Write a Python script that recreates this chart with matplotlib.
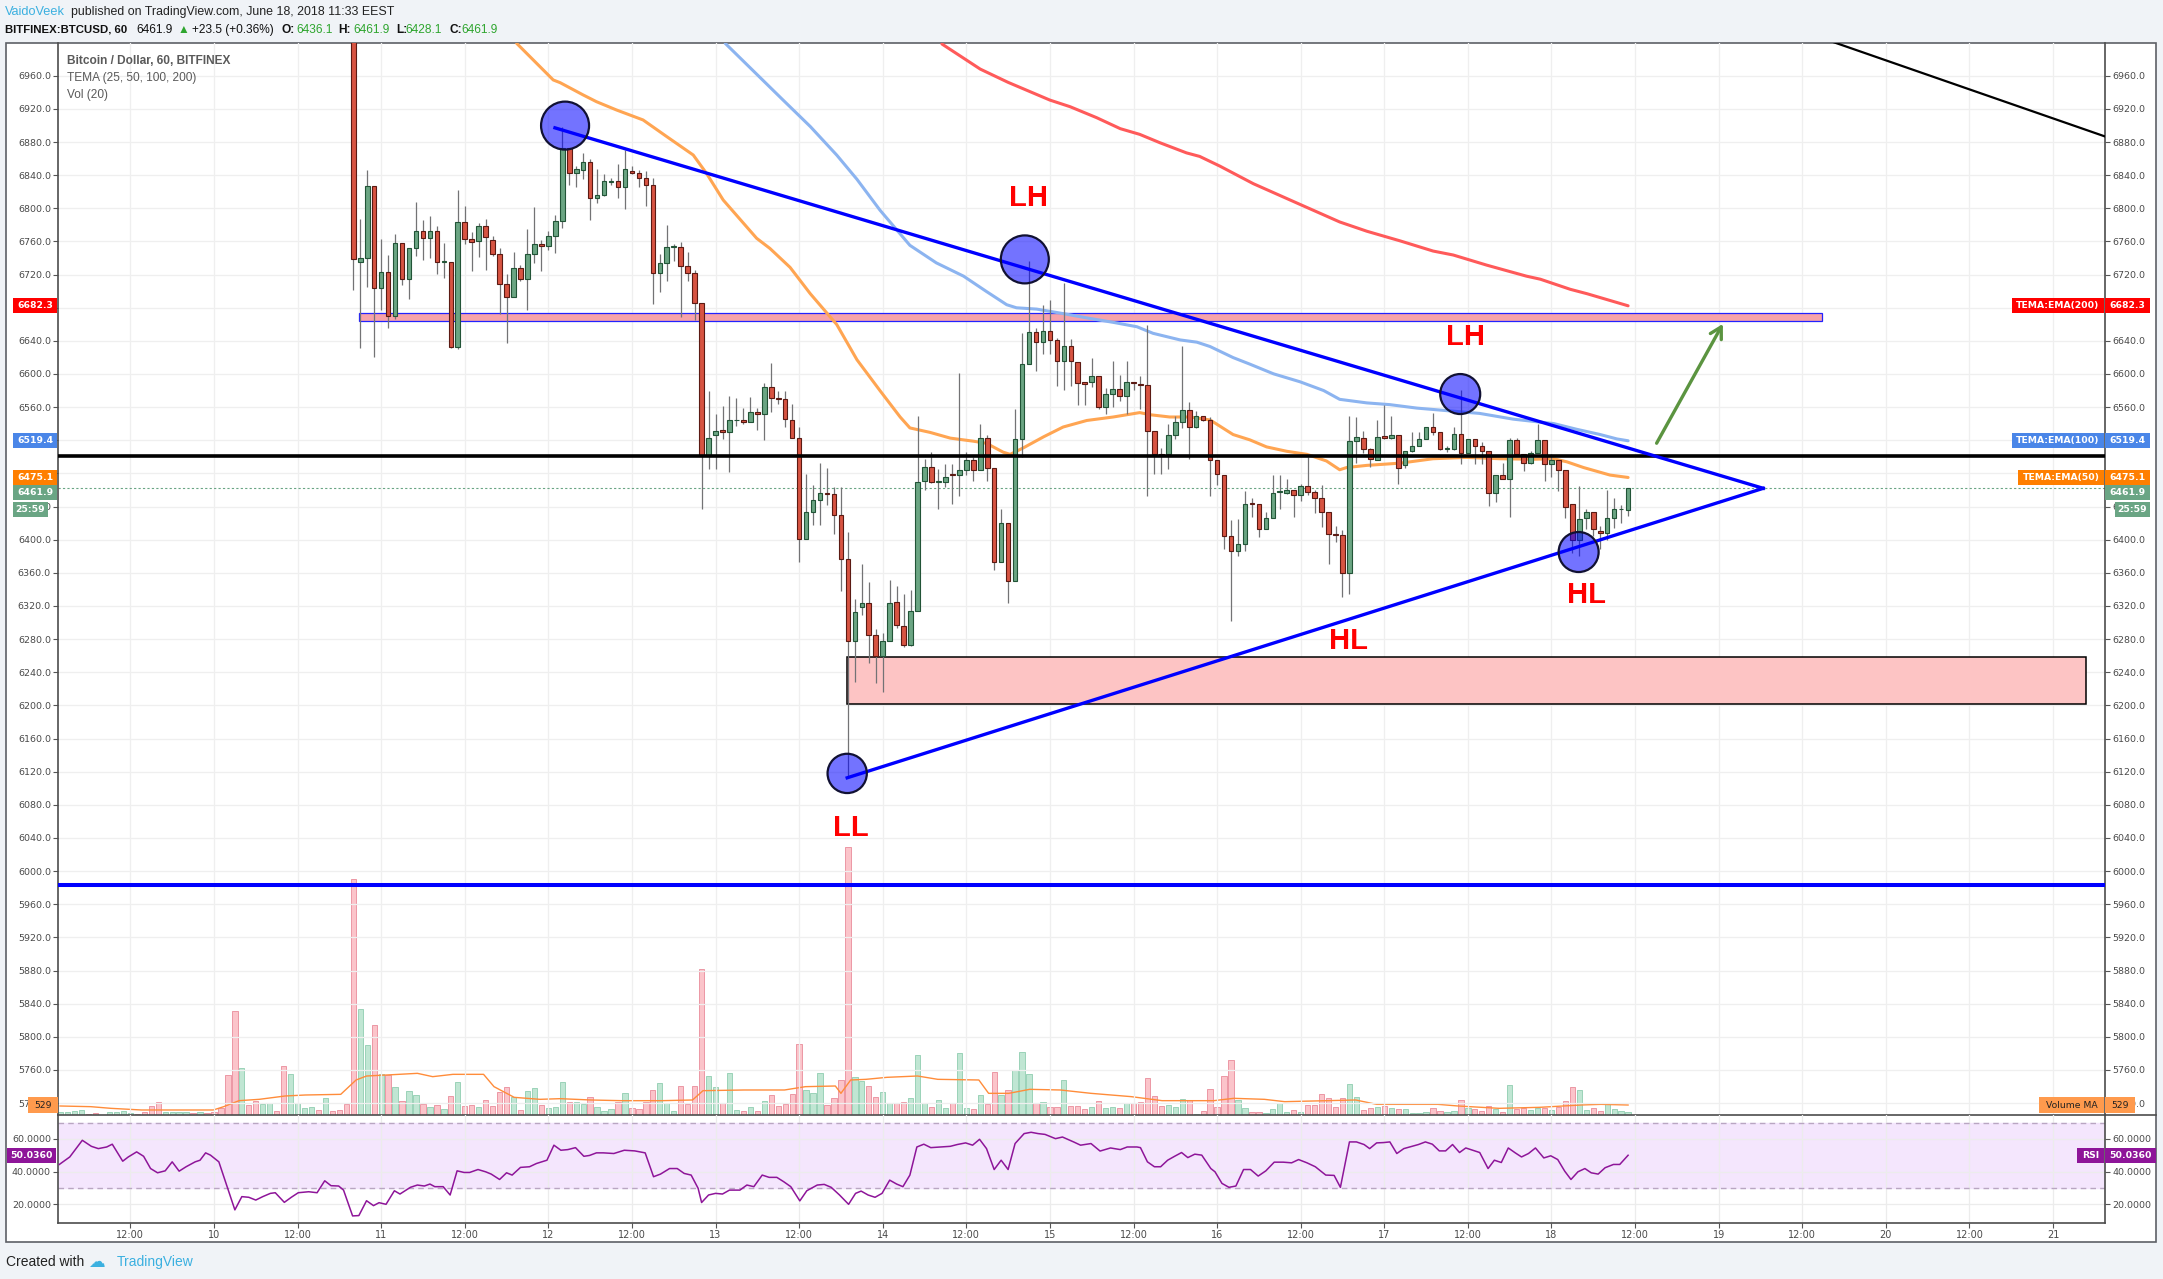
import numpy as np
import matplotlib.pyplot as plt
from matplotlib import font_manager
from matplotlib.patches import Rectangle
from matplotlib.lines import Line2D

plt.rcParams['font.family'] = ['Liberation Sans', 'DejaVu Sans']

# ---------------------------------------------------------------
# data (x = hours counted from June 10 00:00)
# ---------------------------------------------------------------
candle_first_hour = 20
c_open = [
    7060, 6735.1, 6739.4, 6826.5, 6703.2, 6723.4, 6670.3, 6758.5, 6714.9, 6752.6,
    6772.3, 6763.8, 6772.3, 6735.1, 6735.1, 6633.1, 6782.9, 6762.7, 6760.1, 6778.1,
    6762.2, 6744.7, 6708.6, 6693.1, 6728.2, 6714.4, 6745.2, 6756.9, 6754.2, 6767.0,
    6784.5, 6873.2, 6843.0, 6846.7, 6856.2, 6812.1, 6815.9, 6832.3, 6832.9, 6825.9,
    6845.6, 6842.4, 6837.1, 6828.1, 6722.4, 6734.1, 6753.2, 6753.2, 6729.8, 6721.3,
    6685.2, 6501.4, 6525.8, 6532.2, 6529.5, 6543.9, 6544.9, 6542.3, 6554.5, 6551.3,
    6584.8, 6571.0, 6570.4, 6544.4, 6522.6, 6401.0, 6432.9, 6448.3, 6456.8, 6454.6,
    6430.2, 6376.6, 6278.3, 6318.7, 6323.4, 6285.2, 6260.2, 6278.3, 6325.0, 6295.8,
    6273.0, 6314.4, 6471.1, 6488.1, 6470.0, 6470.0, 6479.6, 6478.0, 6484.4, 6496.1,
    6484.4, 6523.2, 6487.1, 6372.8, 6419.6, 6350.5, 6522.1, 6611.9, 6650.1, 6638.4,
    6651.7, 6640.6, 6615.6, 6634.2, 6614.5, 6590.1, 6590.6, 6598.1, 6560.4, 6575.8,
    6581.6, 6573.1, 6590.6, 6588.0, 6586.4, 6531.1, 6503.0, 6503.0, 6526.9, 6541.8,
    6556.1, 6535.9, 6549.2, 6544.4, 6496.1, 6478.0, 6404.7, 6386.1, 6395.2, 6444.5,
    6443.0, 6412.7, 6426.0, 6457.3, 6456.2, 6460.5, 6453.6, 6464.2, 6457.8, 6449.8,
    6433.9, 6407.4, 6405.8, 6359.6, 6518.9, 6523.2, 6509.9, 6496.1, 6524.8, 6523.2,
    6526.9, 6489.7, 6507.2, 6513.1, 6521.6, 6535.9, 6529.5, 6509.9, 6509.9, 6528.0,
    6504.6, 6522.1, 6513.6, 6507.2, 6456.2, 6478.0, 6472.7, 6520.5, 6503.0, 6492.9,
    6504.1, 6520.5, 6491.3, 6496.6, 6484.4, 6443.5, 6399.4, 6426.0, 6432.9, 6410.6,
    6408.4, 6426.0, 6436.6, 6436.1]
c_high = [
    7075, 6787.2, 6846.7, 6826.5, 6763.3, 6743.6, 6768.6, 6758.5, 6752.6, 6807.4,
    6786.1, 6790.4, 6778.1, 6758.0, 6735.1, 6821.7, 6803.1, 6771.2, 6781.9, 6787.2,
    6767.0, 6751.6, 6720.8, 6747.3, 6731.4, 6774.9, 6802.1, 6761.7, 6772.3, 6792.5,
    6897.7, 6873.2, 6850.9, 6866.9, 6858.9, 6847.2, 6841.4, 6836.0, 6853.6, 6870.6,
    6850.9, 6846.7, 6845.6, 6836.0, 6744.7, 6779.7, 6756.4, 6759.6, 6747.3, 6726.1,
    6685.2, 6578.9, 6551.9, 6561.4, 6573.1, 6571.5, 6558.8, 6572.0, 6558.8, 6589.0,
    6613.0, 6580.0, 6580.0, 6564.1, 6536.5, 6479.1, 6465.8, 6492.4, 6487.1, 6463.1,
    6463.1, 6409.0, 6328.7, 6371.2, 6348.9, 6291.6, 6287.8, 6351.6, 6344.7, 6334.1,
    6339.4, 6549.2, 6497.7, 6505.6, 6485.5, 6490.8, 6490.8, 6601.3, 6505.6, 6500.3,
    6539.1, 6525.8, 6487.1, 6437.6, 6419.6, 6557.2, 6649.1, 6736.7, 6655.4, 6683.6,
    6688.9, 6643.8, 6710.2, 6642.2, 6614.5, 6590.1, 6619.3, 6598.1, 6582.7, 6615.6,
    6598.6, 6615.6, 6590.6, 6597.0, 6659.7, 6531.1, 6511.0, 6539.1, 6549.2, 6634.2,
    6566.7, 6555.6, 6549.2, 6548.1, 6496.1, 6478.0, 6423.3, 6424.4, 6458.9, 6449.9,
    6443.0, 6433.9, 6478.0, 6478.0, 6473.8, 6460.5, 6467.4, 6499.3, 6460.5, 6465.8,
    6433.9, 6416.4, 6411.1, 6549.2, 6548.1, 6531.1, 6511.0, 6543.9, 6562.5, 6549.2,
    6526.9, 6507.2, 6529.5, 6529.5, 6536.5, 6553.4, 6529.5, 6513.6, 6535.9, 6581.1,
    6522.1, 6522.1, 6518.4, 6507.2, 6478.0, 6492.4, 6522.6, 6522.6, 6503.0, 6506.7,
    6540.2, 6520.5, 6503.0, 6496.6, 6484.4, 6443.5, 6464.7, 6436.6, 6432.9, 6416.4,
    6460.5, 6450.9, 6441.9, 6461.9]
c_low = [
    6701.1, 6631.5, 6704.8, 6620.9, 6676.7, 6656.0, 6666.6, 6707.5, 6690.5, 6742.0,
    6737.8, 6739.4, 6720.8, 6715.5, 6631.0, 6630.5, 6756.4, 6724.5, 6741.0, 6726.1,
    6742.0, 6673.0, 6637.9, 6693.1, 6712.8, 6676.7, 6734.1, 6724.5, 6750.0, 6746.3,
    6776.6, 6828.6, 6825.9, 6835.0, 6785.6, 6805.8, 6815.3, 6828.6, 6812.7, 6798.9,
    6841.4, 6825.4, 6803.1, 6684.6, 6699.5, 6712.8, 6736.7, 6668.7, 6712.8, 6665.0,
    6437.6, 6485.5, 6485.5, 6521.6, 6481.7, 6537.5, 6539.1, 6542.3, 6532.2, 6520.0,
    6554.5, 6564.1, 6536.5, 6522.6, 6372.8, 6401.0, 6418.0, 6418.0, 6441.9, 6407.4,
    6338.3, 6115.0, 6228.4, 6309.1, 6251.7, 6226.8, 6216.1, 6277.2, 6293.2, 6270.3,
    6271.9, 6314.4, 6460.5, 6468.4, 6437.6, 6463.1, 6443.5, 6452.5, 6478.0, 6471.1,
    6484.4, 6470.6, 6363.3, 6372.8, 6324.0, 6350.5, 6499.3, 6611.9, 6603.9, 6624.1,
    6623.6, 6585.3, 6581.1, 6585.3, 6562.5, 6562.5, 6583.7, 6557.2, 6551.9, 6559.8,
    6567.8, 6551.9, 6581.1, 6557.2, 6452.5, 6479.1, 6479.1, 6485.5, 6521.6, 6534.9,
    6497.7, 6534.9, 6542.8, 6452.5, 6465.8, 6388.8, 6302.2, 6380.8, 6386.1, 6427.5,
    6403.6, 6412.7, 6426.0, 6436.6, 6455.2, 6427.0, 6447.2, 6454.1, 6432.3, 6415.3,
    6370.2, 6396.7, 6331.4, 6334.1, 6492.4, 6504.1, 6488.1, 6496.1, 6521.6, 6521.6,
    6467.4, 6487.1, 6505.6, 6512.5, 6521.0, 6526.9, 6508.3, 6505.6, 6508.3, 6491.8,
    6504.6, 6491.8, 6490.8, 6440.8, 6445.6, 6472.7, 6427.0, 6503.0, 6482.8, 6491.8,
    6504.1, 6471.1, 6475.4, 6458.9, 6426.0, 6383.5, 6380.8, 6412.7, 6404.7, 6388.8,
    6399.4, 6414.2, 6420.6, 6428.1]
c_close = [
    6738.3, 6739.4, 6826.5, 6703.2, 6723.4, 6670.3, 6758.5, 6714.9, 6752.6, 6772.3,
    6763.8, 6772.3, 6735.1, 6735.6, 6633.1, 6782.9, 6762.7, 6759.0, 6778.1, 6764.9,
    6744.7, 6708.6, 6693.1, 6728.2, 6714.4, 6745.2, 6756.9, 6754.2, 6767.0, 6784.5,
    6873.2, 6843.0, 6847.2, 6856.2, 6812.1, 6815.9, 6832.9, 6832.9, 6825.9, 6847.2,
    6842.4, 6837.1, 6828.1, 6722.4, 6734.1, 6753.2, 6753.6, 6729.8, 6721.3, 6685.2,
    6501.4, 6523.2, 6531.7, 6529.5, 6543.9, 6544.4, 6542.3, 6554.5, 6551.3, 6584.8,
    6571.0, 6570.4, 6545.5, 6522.6, 6401.0, 6432.9, 6448.3, 6456.2, 6455.2, 6430.2,
    6376.6, 6278.3, 6313.3, 6323.4, 6285.2, 6260.2, 6278.3, 6323.4, 6296.9, 6273.0,
    6314.4, 6470.0, 6488.1, 6470.0, 6470.4, 6475.9, 6477.5, 6484.4, 6496.1, 6484.4,
    6523.2, 6487.1, 6372.8, 6419.6, 6350.5, 6522.1, 6611.9, 6650.1, 6638.4, 6651.7,
    6640.6, 6615.6, 6634.2, 6615.6, 6589.0, 6588.5, 6598.1, 6560.4, 6575.8, 6581.6,
    6573.1, 6590.6, 6589.0, 6586.4, 6531.1, 6503.0, 6502.5, 6526.9, 6541.8, 6556.1,
    6535.9, 6549.2, 6544.4, 6496.1, 6479.1, 6404.7, 6386.1, 6395.2, 6443.5, 6443.0,
    6412.7, 6426.0, 6456.8, 6458.4, 6460.5, 6453.6, 6464.2, 6457.8, 6449.8, 6433.9,
    6407.4, 6405.8, 6359.6, 6518.9, 6524.2, 6509.9, 6497.7, 6524.2, 6523.2, 6526.9,
    6486.0, 6507.2, 6513.1, 6521.6, 6535.9, 6529.5, 6509.9, 6510.4, 6528.0, 6504.6,
    6522.1, 6513.6, 6507.2, 6456.2, 6478.0, 6472.7, 6520.5, 6503.0, 6492.9, 6504.1,
    6520.5, 6491.3, 6496.6, 6484.4, 6439.2, 6399.4, 6424.9, 6432.9, 6412.7, 6408.4,
    6426.0, 6436.6, 6437.0, 6461.9]

vol_first_hour = -22
volume = [
    143, 143, 212, 265, 53, 90, 26, 143, 175, 212, 122, 53, 143, 492, 672, 143, 143, 175, 143, 90,
    143, 122, 175, 354, 2116, 5502, 2470, 529, 756, 566, 635, 212, 2592, 2153, 619, 354, 407, 265, 883, 227,
    265, 566, 12469, 5592, 3703, 4761, 2169, 2116, 1465, 741, 1270, 1058, 582, 407, 529, 302, 1005, 1730, 476, 529,
    407, 794, 476, 1201, 1465, 936, 265, 1285, 1412, 529, 354, 439, 1730, 672, 672, 566, 968, 407, 212, 302,
    672, 1148, 354, 317, 704, 1323, 1677, 651, 227, 1534, 566, 1534, 7723, 2063, 1465, 619, 2206, 265, 212, 407,
    227, 741, 1058, 476, 566, 1111, 3756, 1323, 1148, 2206, 529, 915, 1852, 14177, 1994, 1799, 1534, 936, 1233, 619,
    619, 688, 899, 3174, 619, 407, 794, 386, 619, 3264, 354, 302, 1058, 566, 2291, 1058, 1323, 2381, 3317, 2169,
    651, 704, 439, 407, 1852, 476, 492, 302, 439, 756, 354, 439, 354, 619, 651, 672, 1941, 1005, 476, 529,
    439, 846, 794, 53, 212, 1360, 439, 2063, 2910, 794, 354, 143, 175, 90, 317, 619, 143, 265, 143, 529,
    529, 1095, 915, 439, 883, 1624, 936, 265, 354, 439, 476, 354, 302, 302, 122, 122, 175, 354, 227, 143,
    212, 794, 354, 302, 227, 492, 317, 143, 1571, 302, 354, 265, 354, 354, 265, 439, 756, 1465, 1323, 265,
    354, 227, 619, 302, 227, 143]
# bar colours before the first candle on screen (1 = up / green)
vol_up_before = [1, 1, 1, 1, 0, 0, 1, 1, 1, 1, 1, 0, 0, 0, 0, 1, 1, 1, 1, 0, 1,
                 0, 0, 0, 0, 0, 1, 0, 0, 1, 1, 0, 0, 1, 1, 1, 1, 0, 1, 0, 0, 0]

vol_ma_pts = [
    (-22.1, 476), (-17.7, 441), (-14.8, 353), (-10.4, 265), (-0.1, 265), (1.4, 441), (3.6, 758),
    (6.5, 829), (10.2, 1005), (13.1, 1058), (18.2, 1093), (20.4, 1852), (21.9, 2063), (24.8, 2116),
    (29.2, 2204), (31.4, 2028), (34.3, 2151), (38.7, 2151), (40.2, 1499), (43.1, 934), (46.8, 829),
    (49.7, 864), (54.1, 794), (58.5, 758), (64.3, 758), (68.7, 794), (70.2, 1287), (76.1, 1323),
    (81.9, 1323), (84.9, 1499), (89.2, 1534), (90.0, 1146), (91.4, 1852), (93.6, 1887), (96.6, 1993),
    (101.0, 2063), (103.9, 1887), (109.8, 1852), (111.2, 1146), (114.1, 1146), (117.1, 1358),
    (121.5, 1323), (125.9, 1146), (131.7, 970), (136.1, 758), (143.5, 758), (146.4, 882), (150.8, 829),
    (153.7, 705), (163.9, 794), (166.9, 564), (175.7, 564), (178.6, 476), (184.5, 353), (190.3, 406),
    (196.2, 529), (199.1, 564), (203.0, 529)]

ema50_pts = [
    (43.45, 6999.1), (48.7, 6954.9), (49.7, 6951.6), (53.0, 6936.8), (54.9, 6928.7), (57.8, 6918.6),
    (61.6, 6906.6), (65.0, 6886.5), (68.8, 6864.3), (70.7, 6842.2), (73.1, 6810.0), (77.9, 6763.8),
    (79.8, 6751.6), (82.7, 6728.7), (85.6, 6696.9), (89.4, 6659.7), (92.3, 6617.2), (95.6, 6580.0),
    (98.5, 6548.1), (99.9, 6534.9), (102.8, 6529.5), (105.7, 6522.6), (109.0, 6518.9), (110.9, 6516.3),
    (113.3, 6505.6), (114.3, 6503.0), (116.2, 6510.9), (119.1, 6524.2), (121.9, 6536.0), (125.3, 6543.9),
    (129.1, 6548.1), (132.9, 6553.4), (134.4, 6550.8), (137.2, 6548.1), (140.1, 6548.1), (143.0, 6544.5),
    (146.3, 6526.9), (148.7, 6520.5), (151.1, 6512.0), (154.0, 6506.7), (156.9, 6503.0), (159.7, 6495.0),
    (161.6, 6484.4), (162.6, 6487.1), (165.5, 6489.7), (170.3, 6492.4), (175.0, 6497.7), (179.8, 6499.3),
    (184.6, 6497.7), (189.4, 6497.1), (192.3, 6497.7), (194.2, 6494.0), (196.6, 6487.1), (200.4, 6478.0),
    (203.0, 6475.1)]
ema100_pts = [
    (73.4, 6999.0), (81.7, 6930.6), (85.6, 6898.7), (89.4, 6864.2), (92.3, 6835.0), (95.6, 6797.8),
    (99.9, 6755.3), (103.7, 6734.1), (107.6, 6718.1), (110.9, 6699.5), (113.8, 6683.6), (115.2, 6679.9),
    (118.1, 6678.3), (121.9, 6672.9), (125.3, 6667.7), (129.1, 6662.3), (132.5, 6657.0), (134.8, 6649.1),
    (138.7, 6641.1), (141.1, 6638.4), (143.0, 6633.1), (146.3, 6619.8), (148.7, 6611.9), (152.1, 6600.2),
    (155.9, 6590.6), (159.3, 6580.0), (161.6, 6569.4), (165.5, 6565.1), (168.8, 6563.0), (172.7, 6558.8),
    (176.5, 6556.1), (181.7, 6552.4), (186.5, 6545.5), (189.4, 6542.8), (192.3, 6540.2), (195.6, 6533.3),
    (199.0, 6526.9), (201.4, 6521.6), (203.0, 6519.4)]
ema200_pts = [
    (104.5, 6998.3), (110.0, 6968.0), (114.0, 6952.0), (120.0, 6930.6), (122.9, 6922.6), (126.7, 6909.4),
    (130.1, 6896.1), (132.9, 6889.2), (135.8, 6879.1), (139.6, 6866.9), (141.5, 6862.6), (144.4, 6850.9),
    (149.2, 6829.7), (155.9, 6804.7), (161.6, 6783.5), (165.5, 6772.3), (170.3, 6760.6), (175.0, 6748.4),
    (177.9, 6743.6), (182.7, 6731.4), (188.4, 6718.1), (190.4, 6714.4), (194.7, 6702.2), (197.1, 6696.9),
    (203.0, 6682.3)]

rsi_pts = [
    (-22.2, 44.4), (-20.7, 49.0), (-18.9, 59.2), (-17.6, 55.5), (-16.6, 54.1), (-15.4, 55.1), (-14.6, 56.8),
    (-13.1, 46.4), (-12.3, 49.0), (-11.1, 52.1), (-10.1, 49.4), (-9.1, 41.9), (-8.1, 39.3), (-7.0, 40.5),
    (-6.0, 46.0), (-5.0, 40.3), (-4.0, 43.0), (-2.7, 46.0), (-2.0, 47.0), (-1.2, 51.5), (-0.5, 50.1),
    (0.7, 46.0), (3.0, 16.6), (4.0, 24.7), (5.0, 24.3), (6.0, 22.6), (7.0, 24.7), (8.1, 26.7), (8.8, 27.1),
    (10.1, 21.2), (11.1, 24.3), (12.1, 27.1), (13.6, 27.7), (14.8, 27.1), (15.9, 34.4), (16.8, 31.4),
    (17.9, 31.2), (18.6, 28.7), (19.9, 12.9), (20.8, 13.1), (21.9, 22.2), (22.9, 19.2), (23.7, 21.0),
    (24.7, 20.0), (25.9, 28.3), (26.7, 26.3), (28.2, 30.4), (29.2, 31.8), (30.2, 31.2), (31.0, 32.4),
    (31.7, 30.8), (32.9, 30.8), (33.9, 25.7), (34.9, 40.5), (35.9, 39.5), (36.7, 39.5), (37.9, 41.3),
    (39.0, 39.9), (39.8, 38.5), (41.0, 35.2), (42.0, 39.3), (42.8, 37.9), (44.0, 42.6), (45.3, 43.0),
    (46.3, 45.0), (47.8, 47.0), (48.8, 56.2), (49.8, 53.1), (50.8, 53.5), (51.9, 54.7), (53.1, 49.4),
    (53.9, 49.9), (54.9, 51.5), (55.9, 51.5), (57.4, 51.1), (58.9, 53.1), (60.4, 52.7), (61.9, 51.5),
    (63.1, 36.9), (64.1, 38.5), (65.4, 41.9), (66.5, 41.9), (67.5, 38.9), (68.5, 37.9), (69.5, 29.8),
    (70.0, 21.1), (71.0, 25.7), (72.0, 26.7), (73.0, 26.3), (74.0, 28.7), (75.5, 28.7), (76.5, 31.8),
    (77.5, 30.8), (78.7, 37.9), (79.7, 36.5), (80.8, 36.5), (81.8, 33.8), (82.8, 30.8), (84.1, 22.1),
    (85.1, 28.3), (86.6, 31.8), (87.6, 32.2), (88.6, 30.4), (89.8, 25.7), (91.1, 20.0), (92.1, 26.7),
    (92.9, 28.1), (93.9, 25.7), (94.9, 24.3), (95.9, 26.7), (97.0, 34.8), (98.0, 32.4), (98.9, 30.8),
    (99.9, 37.9), (100.9, 55.1), (101.9, 56.8), (102.9, 54.7), (104.2, 55.1), (105.7, 55.5), (106.7, 56.6),
    (107.9, 57.6), (108.9, 56.2), (109.9, 59.8), (110.9, 54.1), (112.0, 41.3), (113.0, 47.0), (114.0, 41.3),
    (115.0, 57.2), (116.3, 63.3), (117.3, 64.1), (118.3, 63.3), (119.3, 62.8), (120.8, 60.2), (121.8, 61.2),
    (123.4, 58.2), (124.4, 56.2), (125.9, 57.2), (127.2, 52.6), (128.7, 54.5), (130.1, 53.5), (131.1, 55.1),
    (132.5, 55.1), (133.0, 54.7), (134.0, 46.0), (135.0, 43.0), (135.9, 43.0), (136.9, 47.0), (137.9, 49.4),
    (138.9, 51.7), (139.8, 48.6), (140.8, 50.7), (141.8, 50.1), (143.1, 41.9), (143.7, 39.9), (144.7, 32.8),
    (145.7, 30.4), (146.7, 31.2), (147.8, 41.3), (148.8, 41.3), (149.9, 37.3), (151.0, 40.5), (152.2, 45.8),
    (153.5, 45.8), (154.7, 45.4), (155.7, 47.4), (156.9, 45.4), (158.1, 43.0), (159.6, 37.9), (160.8, 37.7),
    (161.7, 30.4), (163.0, 58.2), (164.0, 58.2), (165.1, 56.6), (165.9, 54.1), (166.9, 57.6), (167.9, 57.8),
    (168.8, 58.2), (169.8, 51.1), (170.8, 54.1), (172.0, 55.5), (172.9, 56.6), (173.9, 58.2), (174.9, 56.8),
    (175.9, 52.7), (176.8, 52.7), (177.8, 56.6), (178.8, 51.7), (179.7, 54.5), (180.7, 53.1), (181.7, 51.7),
    (182.9, 41.9), (183.8, 47.0), (184.8, 45.6), (185.8, 54.5), (186.8, 51.5), (187.7, 49.0), (188.7, 51.1),
    (189.7, 54.5), (190.9, 48.4), (191.9, 49.7), (192.9, 47.4), (193.9, 40.3), (194.8, 35.2), (195.8, 39.9),
    (196.8, 41.9), (197.7, 39.3), (198.7, 38.5), (199.7, 42.4), (200.9, 44.4), (201.8, 44.4), (203.0, 50.036)]

# drawings (hour, price)
upper_trend = [(48.95, 6897.1), (222.4, 6462.0)]
lower_trend = [(90.9, 6112.6), (222.4, 6462.0)]
far_line = [(231.3, 7004.0), (271.46, 6886.7)]
black_level = 6501.4
blue_level = 5983.0
resist_zone = (20.86, 230.9, 6663.9, 6674.0)
support_zone = (90.9, 268.8, 6201.3, 6258.7)
arrow_from = (206.9, 6513.5)
arrow_to = (216.8, 6663.4)
circle_h = [50.4, 116.4, 178.9, 195.9, 90.9]
circle_p = [6899.8, 6738.3, 6575.8, 6385.1, 6117.9]
circle_s = [1194, 1194, 829, 829, 800]
swing_text = ['LH', 'LH', 'HL', 'HL', 'LL']
swing_h = [116.9, 179.7, 197.0, 162.9, 91.4]
swing_p = [6812.7, 6644.8, 6333.0, 6278.3, 6052.0]

last_price = 6461.9
ema_last = {'200': 6682.3, '100': 6519.4, '50': 6475.1}
vol_ma_last = 529
rsi_last = 50.036

price_ticks = np.arange(5720, 6961, 40)
time_ticks = np.arange(-12, 265, 12)
time_labels = ['12:00', '10', '12:00', '11', '12:00', '12', '12:00', '13', '12:00', '14', '12:00', '15',
               '12:00', '16', '12:00', '17', '12:00', '18', '12:00', '19', '12:00', '20', '12:00', '21']

# ---------------------------------------------------------------
# figure layout (pixel based)
# ---------------------------------------------------------------
W, H = 2163, 1279
fig = plt.figure(figsize=(W / 100, H / 100), dpi=100, facecolor='#f0f3f7')


def fx(px):
    return px / W


def fy(py):
    return 1 - py / H


fig.add_artist(Rectangle((fx(6), fy(1242)), fx(2156) - fx(6), fy(43) - fy(1242),
                         transform=fig.transFigure, facecolor='white', edgecolor='#5d6066',
                         lw=1.2, zorder=-5))

main_rect = [fx(58), fy(1115), fx(2105) - fx(58), fy(43) - fy(1115)]
ax_vol = fig.add_axes(main_rect, facecolor='white')
ax = fig.add_axes(main_rect, facecolor='none')
ax_rsi = fig.add_axes([fx(58), fy(1223), fx(2105) - fx(58), fy(1115) - fy(1223)], facecolor='none')

xlim = (-22.39, 271.46)
for a in (ax_vol, ax, ax_rsi):
    a.set_xlim(*xlim)

# ----- volume -----
vh = np.arange(vol_first_hour, vol_first_hour + len(volume))
up = np.array(c_close) >= np.array(c_open)
vol_up = np.concatenate([np.array(vol_up_before, dtype=bool), up])
vol = np.array(volume)
ax_vol.bar(vh[vol_up], vol[vol_up], width=0.76, color='#c0e6d3', edgecolor='#8fcdb0', lw=0.6)
ax_vol.bar(vh[~vol_up], vol[~vol_up], width=0.76, color='#fbc4ca', edgecolor='#e98b9a', lw=0.6)
mah, mav = zip(*vol_ma_pts)
ax_vol.plot(mah, mav, color='#ff8c3a', lw=1.0)
ax_vol.set_ylim(0, 56709)
ax_vol.axis('off')

# ----- price pane -----
ax.set_ylim(5705.6, 6999.5)
ax.set_yticks(price_ticks)
ax.set_yticklabels([f'{v:.1f}' for v in price_ticks])
ax.set_xticks(time_ticks)
ax.tick_params(axis='y', left=True, right=True, labelleft=True, labelright=True, length=3.3,
               width=0.8, color='#555555', pad=1.8, labelsize=6.8, labelcolor='#4a4a4a',
               labelfontfamily='DejaVu Sans')
ax.tick_params(axis='x', bottom=False, labelbottom=False)
ax.grid(True, color='#efefef', lw=0.9, zorder=0)
ax.set_axisbelow(True)
for s in ('left', 'right', 'bottom'):
    ax.spines[s].set_color('#4d4d4d')
    ax.spines[s].set_linewidth(1.2)
ax.spines['top'].set_visible(False)

x0, x1, y0, y1 = resist_zone
ax.add_patch(Rectangle((x0, y0), x1 - x0, y1 - y0, facecolor='#f7a3a9', edgecolor='#2222ff', lw=0.9, zorder=1))
x0, x1, y0, y1 = support_zone
ax.add_patch(Rectangle((x0, y0), x1 - x0, y1 - y0, facecolor='#fdc4c4', edgecolor='black', lw=1.1, zorder=1))

for pts, col in ((ema200_pts, '#ff5a5a'), (ema100_pts, '#8cb4f0'), (ema50_pts, '#ffa552')):
    eh, ev = zip(*pts)
    ax.plot(eh, ev, color=col, lw=2.2, zorder=2, solid_capstyle='round')

hours = np.arange(candle_first_hour, candle_first_hour + len(c_open))
o, hi, lo, c = (np.array(v) for v in (c_open, c_high, c_low, c_close))
ax.vlines(hours, lo, hi, color='#737375', lw=0.9, zorder=3)
body_lo = np.minimum(o, c)
body_h = np.maximum(np.abs(c - o), 0.8)
ax.bar(hours[up], body_h[up], bottom=body_lo[up], width=0.66, color='#6ba583',
       edgecolor='#225437', lw=0.8, zorder=3.2)
ax.bar(hours[~up], body_h[~up], bottom=body_lo[~up], width=0.66, color='#d75442',
       edgecolor='#5b1a13', lw=0.8, zorder=3.2)

ax.axhline(last_price, color='#6aa584', lw=0.8, ls=(0, (2, 2)), zorder=2.5)
ax.axhline(black_level, color='black', lw=2.6, zorder=4)
ax.axhline(blue_level, color='#0000ff', lw=2.9, zorder=4)

for pts in (upper_trend, lower_trend):
    th, tv = zip(*pts)
    ax.plot(th, tv, color='#0000ff', lw=2.4, zorder=4.5)
fh, fv = zip(*far_line)
ax.plot(fh, fv, color='black', lw=1.6, zorder=4.5)

ax.annotate('', xy=arrow_to, xytext=arrow_from,
            arrowprops=dict(arrowstyle='->,head_length=0.8,head_width=0.45', color='#5b9440', lw=2.4),
            zorder=5)

ax.scatter(circle_h, circle_p, s=circle_s, facecolor=(0, 0, 1, 0.55), edgecolor='#111133',
           lw=1.6, zorder=6)
for t, sh, sp in zip(swing_text, swing_h, swing_p):
    ax.text(sh, sp, t, color='#ff0000', fontsize=21, fontweight='bold', ha='center', va='center', zorder=7)

# ----- RSI pane -----
ax_rsi.set_ylim(8.56, 74.68)
ax_rsi.axhspan(30, 70, color='#f4e6fd', zorder=0)
for lvl in (30, 70):
    ax_rsi.axhline(lvl, color='#b9a6c2', lw=1.0, ls=(0, (4, 3)), zorder=1)
rh, rv = zip(*rsi_pts)
ax_rsi.plot(rh, rv, color='#8e1599', lw=1.1, zorder=3)
ax_rsi.set_yticks([20, 40, 60])
ax_rsi.set_yticklabels(['20.0000', '40.0000', '60.0000'])
ax_rsi.set_xticks(time_ticks)
ax_rsi.set_xticklabels(time_labels)
ax_rsi.tick_params(axis='y', left=True, right=True, labelleft=True, labelright=True, length=3.3,
                   width=0.8, color='#555555', pad=1.8, labelsize=6.8, labelcolor='#4a4a4a',
                   labelfontfamily='DejaVu Sans')
ax_rsi.tick_params(axis='x', length=3.3, width=0.8, color='#555555', pad=1.8, labelsize=7,
                   labelcolor='#4a4a4a', labelfontfamily='DejaVu Sans')
ax_rsi.grid(True, color='#ececec', lw=0.9, zorder=0)
ax_rsi.set_axisbelow(True)
for s in ('left', 'right', 'bottom'):
    ax_rsi.spines[s].set_color('#4d4d4d')
    ax_rsi.spines[s].set_linewidth(1.2)
ax_rsi.spines['top'].set_visible(False)
fig.add_artist(Line2D([fx(2105), fx(2156)], [fy(1115), fy(1115)], color='#4d4d4d', lw=1.2,
                      transform=fig.transFigure))

ax.text(fx(67), fy(1133), 'RSI (14, close)', transform=fig.transFigure, fontsize=8.2,
        color='#555555', va='center')

# ----- price / indicator tags -----


def ydisp(a, v):
    return a.transData.transform((0, v))[1]


def tag(yd, xa, xb, text, fc, tc='white', weight='bold'):
    fig.add_artist(Rectangle((xa / W, (yd - 7.6) / H), (xb - xa) / W, 15.2 / H,
                             transform=fig.transFigure, facecolor=fc, edgecolor='none', zorder=20))
    fig.text((xa + xb) / 2 / W, yd / H, text, ha='center', va='center', color=tc, fontsize=6.7,
             fontweight=weight, family='DejaVu Sans', zorder=21)


red_c, blue_c, orange_c, green_c = '#ff0000', '#4a86e8', '#ff7f00', '#6aa584'
y200 = ydisp(ax, ema_last['200'])
y100 = ydisp(ax, ema_last['100'])
y50 = ydisp(ax, ema_last['50'])
ylast = ydisp(ax, last_price) - 4.4
yclock = ydisp(ax, last_price) - 21.4
tag(y200, 2012, 2104, 'TEMA:EMA(200)', red_c)
tag(y200, 2105, 2150, f"{ema_last['200']:.1f}", red_c)
tag(y100, 2012, 2104, 'TEMA:EMA(100)', blue_c)
tag(y100, 2105, 2150, f"{ema_last['100']:.1f}", blue_c)
tag(y50, 2018, 2104, 'TEMA:EMA(50)', orange_c)
tag(y50, 2105, 2150, f"{ema_last['50']:.1f}", orange_c)
tag(ylast, 2105, 2150, f'{last_price:.1f}', green_c)
tag(yclock, 2115, 2150, '25:59', green_c)
tag(y200, 13, 57, f"{ema_last['200']:.1f}", red_c)
tag(y100, 13, 57, f"{ema_last['100']:.1f}", blue_c)
tag(y50, 13, 57, f"{ema_last['50']:.1f}", orange_c)
tag(ylast, 13, 57, f'{last_price:.1f}', green_c)
tag(yclock, 13, 48, '25:59', green_c)

yvm = ydisp(ax_vol, vol_ma_last)
tag(yvm, 2039, 2104, 'Volume MA', '#ff9a4d', tc='#222222', weight='normal')
tag(yvm, 2105, 2135, str(vol_ma_last), '#ff9a4d', tc='#222222', weight='normal')
tag(yvm, 28, 58, str(vol_ma_last), '#ff9a4d', tc='#222222', weight='normal')

yr = ydisp(ax_rsi, rsi_last)
tag(yr, 2077, 2104, 'RSI', '#8e1599')
tag(yr, 2105, 2156, f'{rsi_last:.4f}', '#8e1599')
tag(yr, 7, 56, f'{rsi_last:.4f}', '#8e1599')

# ----- chart legend -----
fig.text(fx(67), fy(61), 'Bitcoin / Dollar, 60, BITFINEX', fontsize=8.6, fontweight='bold',
         color='#5a5a5a', va='center')
fig.text(fx(67), fy(78), 'TEMA (25, 50, 100, 200)', fontsize=8.6, color='#5a5a5a', va='center')
fig.text(fx(67), fy(95), 'Vol (20)', fontsize=8.6, color='#5a5a5a', va='center')

# ----- header -----
try:
    font_manager.findfont('Liberation Sans Narrow', fallback_to_default=False)
    head_family, head_size = ['Liberation Sans Narrow', 'DejaVu Sans'], 9.2
except ValueError:
    head_family, head_size = ['Liberation Sans', 'DejaVu Sans'], 8.2

fig.text(fx(5.4), fy(12.3), 'VaidoVeek', fontsize=9.2, color='#3bb0e0', va='center')
fig.text(fx(71), fy(12.3), 'published on TradingView.com, June 18, 2018 11:33 EEST', fontsize=8.9,
         color='#222222', va='center')
dark, green = '#111111', '#2ea52e'
fig.text(fx(5.4), fy(30), 'BITFINEX:BTCUSD, 60', fontsize=head_size, color=dark, fontweight='bold',
         va='center', family=head_family)
header2 = [(136, '6461.9', dark, 'normal'),
           (178, '\u25B2', green, 'normal'), (192, '+23.5 (+0.36%)', dark, 'normal'),
           (282, 'O:', dark, 'bold'), (296, '6436.1', green, 'normal'),
           (338, 'H:', dark, 'bold'), (353, '6461.9', green, 'normal'),
           (396, 'L:', dark, 'bold'), (405, '6428.1', green, 'normal'),
           (449, 'C:', dark, 'bold'), (461, '6461.9', green, 'normal')]
for xp, txt, col, wt in header2:
    fig.text(fx(xp), fy(30), txt, fontsize=8.6, color=col, fontweight=wt, va='center')

# ----- footer -----
fig.text(fx(5.6), fy(1262), 'Created with', fontsize=10, color='#222222', va='center')
fig.text(fx(88), fy(1262), '\u2601', fontsize=12, color='#3bb0e0', va='center', family='DejaVu Sans')
fig.text(fx(117), fy(1262), 'TradingView', fontsize=10, color='#3bb0e0', va='center')

fig.savefig('out.png', dpi=100, facecolor=fig.get_facecolor())
